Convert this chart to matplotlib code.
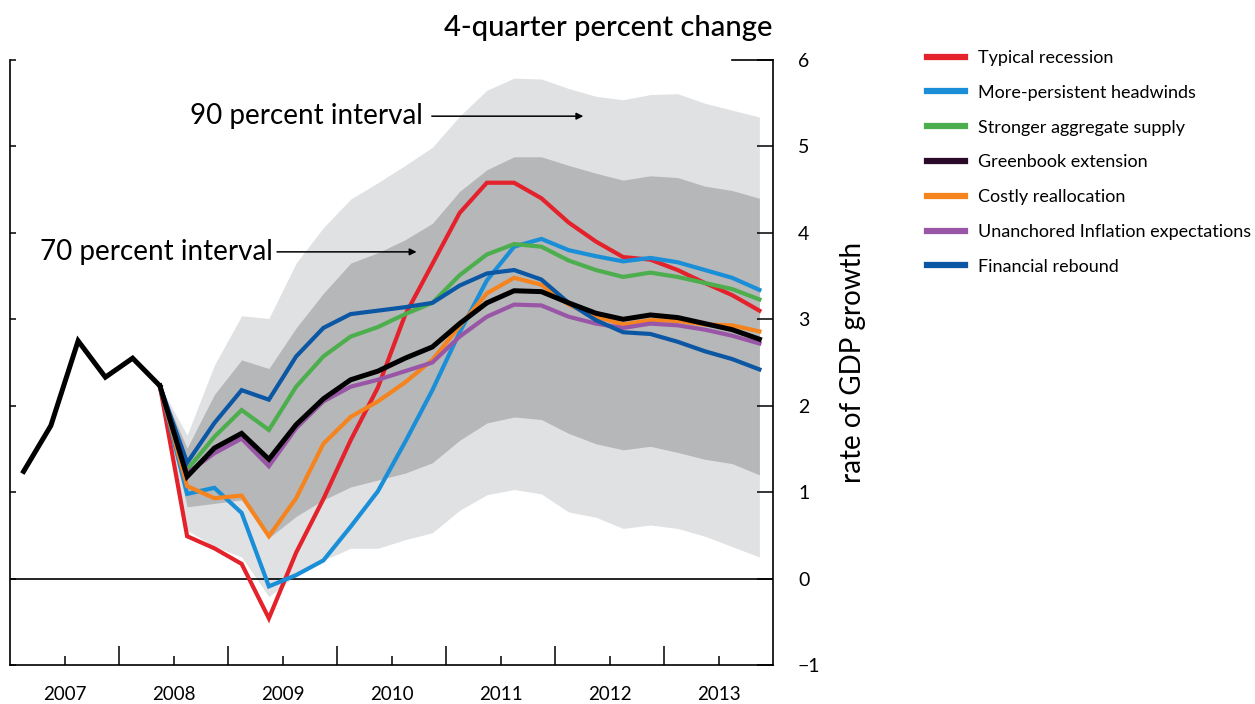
import matplotlib
matplotlib.use('Agg')
import matplotlib.pyplot as plt
from matplotlib.lines import Line2D

plt.rcParams['font.family'] = ['Lato', 'DejaVu Sans']

# quarterly data, 2007Q1 .. 2013Q4 (plotted at mid-quarter)
history = [1.24, 1.77, 2.75, 2.33, 2.55, 2.23]   # 2007Q1 - 2008Q2

# projections start at 2008Q2 (index 5)
typical_recession = [2.23, 0.49, 0.35, 0.17, -0.46, 0.30, 0.92, 1.60, 2.21, 3.05, 3.64, 4.23,
                     4.58, 4.58, 4.40, 4.12, 3.90, 3.72, 3.69, 3.57, 3.42, 3.28, 3.10]
persistent_headwinds = [2.23, 0.98, 1.05, 0.76, -0.09, 0.04, 0.21, 0.60, 1.01, 1.58, 2.18, 2.85,
                        3.45, 3.84, 3.93, 3.80, 3.73, 3.67, 3.71, 3.66, 3.57, 3.48, 3.34]
stronger_supply = [2.23, 1.26, 1.64, 1.95, 1.72, 2.22, 2.57, 2.80, 2.91, 3.06, 3.19, 3.51,
                   3.75, 3.87, 3.84, 3.68, 3.57, 3.49, 3.54, 3.49, 3.42, 3.35, 3.23]
greenbook = [2.23, 1.18, 1.51, 1.68, 1.38, 1.78, 2.08, 2.30, 2.40, 2.55, 2.68, 2.95,
             3.19, 3.33, 3.32, 3.19, 3.07, 3.00, 3.05, 3.02, 2.95, 2.88, 2.77]
costly_realloc = [2.23, 1.07, 0.93, 0.96, 0.49, 0.93, 1.56, 1.87, 2.05, 2.27, 2.53, 2.92,
                  3.30, 3.48, 3.40, 3.17, 3.03, 2.94, 2.99, 2.98, 2.94, 2.93, 2.86]
unanchored = [2.23, 1.22, 1.45, 1.62, 1.30, 1.74, 2.05, 2.22, 2.30, 2.40, 2.50, 2.80,
              3.03, 3.17, 3.16, 3.03, 2.95, 2.90, 2.95, 2.93, 2.88, 2.81, 2.72]
financial_rebound = [2.23, 1.34, 1.80, 2.18, 2.07, 2.57, 2.90, 3.06, 3.10, 3.14, 3.19, 3.39,
                     3.53, 3.57, 3.46, 3.19, 2.99, 2.85, 2.83, 2.74, 2.63, 2.54, 2.42]

# confidence bands
upper90 = [2.23, 1.66, 2.47, 3.04, 3.01, 3.65, 4.06, 4.39, 4.58, 4.78, 4.99, 5.35,
           5.65, 5.79, 5.78, 5.67, 5.58, 5.54, 5.60, 5.61, 5.50, 5.42, 5.34]
upper70 = [2.23, 1.51, 2.13, 2.53, 2.43, 2.90, 3.30, 3.65, 3.77, 3.92, 4.11, 4.48,
           4.73, 4.88, 4.88, 4.78, 4.69, 4.61, 4.66, 4.64, 4.54, 4.49, 4.40]
lower70 = [2.23, 0.83, 0.87, 0.91, 0.47, 0.72, 0.91, 1.06, 1.14, 1.22, 1.34, 1.60,
           1.80, 1.87, 1.84, 1.68, 1.56, 1.49, 1.53, 1.46, 1.38, 1.33, 1.20]
lower90 = [2.23, 0.56, 0.37, 0.25, -0.21, 0.04, 0.21, 0.35, 0.35, 0.45, 0.53, 0.79,
           0.97, 1.03, 0.98, 0.77, 0.71, 0.58, 0.62, 0.58, 0.49, 0.37, 0.25]

years = ['2007', '2008', '2009', '2010', '2011', '2012', '2013']

scenarios = [
    ('Typical recession', typical_recession, '#e3222b'),
    ('More-persistent headwinds', persistent_headwinds, '#1a8fd8'),
    ('Stronger aggregate supply', stronger_supply, '#4cae4c'),
    ('Greenbook extension', greenbook, '#2a0a28'),
    ('Costly reallocation', costly_realloc, '#f5841f'),
    ('Unanchored Inflation expectations', unanchored, '#9a56a6'),
    ('Financial rebound', financial_rebound, '#0b57a4'),
]

x_hist = [2007 + (i + 0.5) / 4 for i in range(len(history))]
x_proj = [2007 + (i + 5.5) / 4 for i in range(len(greenbook))]

fig = plt.figure(figsize=(12.55, 7.04), dpi=100)
ax = fig.add_axes([10 / 1255, 1 - 665 / 704, 763 / 1255, 605 / 704])

ax.fill_between(x_proj, lower90, upper90, color='#e0e1e3', lw=0, zorder=1)
ax.fill_between(x_proj, lower70, upper70, color='#b6b7b9', lw=0, zorder=2)
ax.axhline(0, color='black', lw=1.2, zorder=3)

# draw greenbook last so it sits on top
order = [0, 1, 2, 4, 5, 6, 3]
for k in order:
    name, vals, col = scenarios[k]
    if name == 'Greenbook extension':
        ax.plot(x_proj, vals, color='black', lw=3.6, zorder=6, solid_joinstyle='miter')
    else:
        ax.plot(x_proj, vals, color=col, lw=3.0, zorder=5, solid_joinstyle='miter')
ax.plot(x_hist, history, color='black', lw=3.6, zorder=6, solid_joinstyle='miter')

ax.set_xlim(2007, 2014)
ax.set_ylim(-1, 6)

for s in ['top', 'right']:
    ax.spines[s].set_visible(False)
ax.spines['left'].set_linewidth(1.2)
ax.spines['bottom'].set_linewidth(1.2)

ax.set_xticks(range(2008, 2014))
ax.set_xticklabels([])
ax.set_xticks([2007.5 + i for i in range(7)], minor=True)
ax.set_xticklabels(years, minor=True)
ax.tick_params(axis='x', which='major', direction='in', length=14, width=1.1)
ax.tick_params(axis='x', which='minor', direction='in', length=6.5, width=1.1,
               labelsize=13.5, pad=15)
ax.set_yticks(range(-1, 7))
ax.tick_params(axis='y', direction='in', length=4, width=1.1, labelleft=False)

ax2 = ax.twinx()
ax2.set_ylim(-1, 6)
ax2.set_yticks(range(-1, 7))
for s in ['top', 'left', 'bottom']:
    ax2.spines[s].set_visible(False)
ax2.spines['right'].set_linewidth(1.2)
ax2.tick_params(axis='y', direction='in', length=11.5, width=1.1, labelsize=14, pad=18)
ax2.set_ylabel('rate of GDP growth', fontsize=20, labelpad=14)
ax.axhline(6, xmin=0.946, xmax=1, color='black', lw=1.2, clip_on=False)

ax2.set_title('4-quarter percent change', fontsize=21, fontweight='medium',
              loc='right', pad=17)

# annotations
ax.text(2010.79, 5.35, '90 percent interval', fontsize=20,
        ha='right', va='center', zorder=7)
ax.annotate('', xy=(2012.26, 5.35), xytext=(2010.87, 5.35),
            arrowprops=dict(arrowstyle='-|>', color='black', lw=1.1,
                            mutation_scale=10, shrinkA=0, shrinkB=0), zorder=7)
ax.text(2009.41, 3.78, '70 percent interval', fontsize=20,
        ha='right', va='center', zorder=7)
ax.annotate('', xy=(2010.73, 3.78), xytext=(2009.45, 3.78),
            arrowprops=dict(arrowstyle='-|>', color='black', lw=1.1,
                            mutation_scale=10, shrinkA=0, shrinkB=0), zorder=7)

handles = [Line2D([], [], color=c, lw=4.5) for _, _, c in scenarios]
labels = [n for n, _, _ in scenarios]
fig.legend(handles, labels, loc='upper left', bbox_to_anchor=(927 / 1255, 1 - 50 / 704),
           frameon=False, fontsize=13, handlelength=2.1, handletextpad=0.7,
           labelspacing=1.04, borderpad=0, borderaxespad=0)

fig.savefig('out.png', dpi=100)
